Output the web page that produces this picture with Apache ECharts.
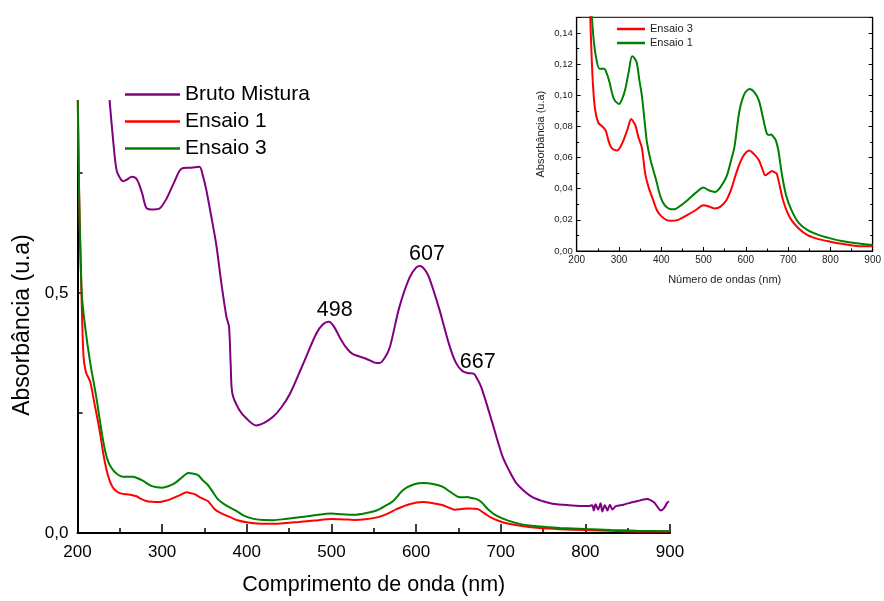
<!DOCTYPE html>
<html>
<head>
<meta charset="utf-8">
<script src="https://cdn.jsdelivr.net/npm/echarts@6/dist/echarts.min.js"></script>
<style>
html,body{margin:0;padding:0;background:#fff;}
#chart{width:884px;height:601px;}
</style>
</head>
<body>
<div id="chart"></div>
<script>
// ---- Data (wavelength nm, absorbance) ----
const xTicks = [200, 300, 400, 500, 600, 700, 800, 900];
const mainYTicks = ['0,0', '0,5'];
const insetYTicks = ['0,00', '0,02', '0,04', '0,06', '0,08', '0,10', '0,12', '0,14'];

const brutoNm = [236,238,242,246,250,254,259,264,270,276,282,290,297,305,314,323,333,344,348,352,358,364,370,376,379,381,383,391,400,411,421,431,441,451,466,482,490,497,503,510,518,525,541,551,557,563,569,580,592,600,605,610,615,627,639,647,655,662,668,672,677,688,702,710,718,728,738,750,761,780,804,808,810,812,815,818,820,823,826,829,832,836,845,855,865,873,881,885,889,893,897,899];
const brutoAbs = [0.95,0.9,0.82,0.757,0.74,0.733,0.737,0.742,0.737,0.71,0.676,0.674,0.676,0.696,0.73,0.759,0.761,0.763,0.745,0.716,0.66,0.6,0.52,0.45,0.43,0.35,0.29,0.257,0.238,0.224,0.23,0.242,0.262,0.29,0.35,0.415,0.435,0.44,0.43,0.407,0.385,0.373,0.363,0.355,0.354,0.365,0.387,0.469,0.531,0.553,0.556,0.549,0.534,0.469,0.393,0.355,0.337,0.333,0.332,0.322,0.304,0.242,0.16,0.13,0.105,0.087,0.074,0.066,0.061,0.058,0.056,0.058,0.047,0.06,0.049,0.062,0.045,0.058,0.047,0.059,0.049,0.056,0.059,0.064,0.068,0.071,0.064,0.055,0.047,0.052,0.064,0.066];

const redNm = [200,202,204,207,210,215,220,226,231,236,241,246,252,258,264,269,275,281,288,296,304,312,320,329,334,339,346,354,362,370,381,390,400,412,423,440,461,480,500,515,527,540,554,566,577,592,608,620,631,640,646,654,662,668,673,680,688,698,708,725,746,770,800,830,861,900];
const redAbs = [0.95,0.7,0.55,0.37,0.335,0.315,0.27,0.215,0.16,0.12,0.097,0.087,0.082,0.0805,0.079,0.077,0.071,0.0667,0.065,0.0645,0.067,0.072,0.078,0.0848,0.083,0.0805,0.073,0.0665,0.0497,0.041,0.0326,0.026,0.0224,0.02,0.0194,0.02,0.023,0.026,0.0294,0.0283,0.0273,0.0285,0.0326,0.04,0.0497,0.06,0.0645,0.062,0.0582,0.052,0.0486,0.05,0.0513,0.0505,0.0497,0.042,0.0326,0.025,0.0198,0.0145,0.0102,0.0078,0.006,0.0045,0.0032,0.003];

const greenNm = [200,202,205,209,215,222,230,235,240,246,254,265,271,277,288,300,308,315,323,331,336,342,348,354,360,366,375,388,398,408,420,431,445,462,480,500,512,527,540,554,565,573,585,597,609,620,631,641,650,656,660,666,671,677,685,695,708,725,746,770,800,830,861,900];
const greenAbs = [0.95,0.7,0.5,0.43,0.355,0.285,0.195,0.155,0.136,0.124,0.117,0.117,0.114,0.109,0.0976,0.0944,0.098,0.104,0.115,0.125,0.124,0.121,0.11,0.1,0.085,0.07,0.058,0.0454,0.035,0.0294,0.027,0.0268,0.029,0.0326,0.037,0.0407,0.039,0.0379,0.041,0.0475,0.058,0.0667,0.09,0.101,0.104,0.102,0.0965,0.085,0.0752,0.0745,0.0748,0.073,0.071,0.0645,0.0497,0.036,0.0262,0.018,0.0134,0.0105,0.0081,0.0062,0.0049,0.0038];

const peakLabels = [[498, 0.44], [607, 0.556], [667, 0.332]];

const zip = (a, b) => a.map((v, i) => [v, b[i]]);
const FONT = '"Liberation Sans", Arial, sans-serif';
const PURPLE = '#800080', RED = '#ff0000', GREEN = '#008000';

const chart = echarts.init(document.getElementById('chart'), null, {renderer: 'canvas'});

const lineSeries = (name, data, color, xi, yi, extra) => Object.assign({
  type: 'line', name: name, data: data, xAxisIndex: xi, yAxisIndex: yi,
  symbol: 'none', smooth: 0.3, clip: true, animation: false,
  lineStyle: {color: color, width: 2}, itemStyle: {color: color}
}, extra || {});

const option = {
  animation: false,
  textStyle: {fontFamily: FONT},
  grid: [
    {left: 77.5, top: 101, width: 592.5, height: 436.7, containLabel: false},
    {left: 576.7, top: 17.3, width: 303.3, height: 233.7, show: true, borderColor: '#000', borderWidth: 1, backgroundColor: 'transparent'}
  ],
  xAxis: [
    {
      gridIndex: 0, type: 'value', min: 200, max: 900, interval: 100,
      name: 'Comprimento de onda (nm)', nameLocation: 'middle', nameGap: 41,
      nameTextStyle: {fontSize: 21.5, color: '#000', fontFamily: FONT},
      axisLine: {show: true, onZero: false, lineStyle: {color: '#000', width: 2}},
      axisTick: {show: true, inside: true, length: 9, lineStyle: {color: '#000', width: 1.5}},
      minorTick: {show: true, splitNumber: 2, length: 5, lineStyle: {color: '#000', width: 1.5}},
      axisLabel: {fontSize: 17, color: '#000', margin: 11, fontFamily: FONT},
      splitLine: {show: false}
    },
    {
      gridIndex: 1, type: 'value', min: 200, max: 900, interval: 100,
      name: 'Número de ondas (nm)', nameLocation: 'middle', nameGap: 23,
      nameTextStyle: {fontSize: 11, color: '#222', fontFamily: FONT},
      axisLine: {show: true, onZero: false, lineStyle: {color: '#000', width: 1.2}},
      axisTick: {show: true, inside: true, length: 4, lineStyle: {color: '#000'}},
      minorTick: {show: true, splitNumber: 2, length: 2.5, lineStyle: {color: '#000'}},
      axisLabel: {fontSize: 10, color: '#222', margin: 4, fontFamily: FONT},
      splitLine: {show: false}
    }
  ],
  yAxis: [
    {
      gridIndex: 0, type: 'value', min: 0, max: 0.9, interval: 0.5,
      axisLine: {show: true, onZero: false, lineStyle: {color: '#000', width: 2}},
      axisTick: {show: true, inside: true, length: 5, customValues: [0, 0.25, 0.5, 0.75], lineStyle: {color: '#000', width: 1.5}},
      axisLabel: {fontSize: 17, color: '#000', margin: 9, fontFamily: FONT,
        formatter: v => (Math.abs(v / 0.5 - Math.round(v / 0.5)) < 1e-6 ? (mainYTicks[Math.round(v / 0.5)] || '') : '')},
      splitLine: {show: false}
    },
    {
      gridIndex: 1, type: 'value', min: 0, max: 0.15, interval: 0.02,
      name: 'Absorbância (u.a)', nameLocation: 'middle', nameGap: 30,
      nameTextStyle: {fontSize: 11, color: '#222', fontFamily: FONT},
      axisLine: {show: true, onZero: false, lineStyle: {color: '#000', width: 1.2}},
      axisTick: {show: true, inside: true, length: 4, lineStyle: {color: '#000'}},
      minorTick: {show: true, splitNumber: 2, length: 2.5, lineStyle: {color: '#000'}},
      axisLabel: {fontSize: 9.5, color: '#222', margin: 4, fontFamily: FONT,
        formatter: v => (Math.abs(v / 0.02 - Math.round(v / 0.02)) < 1e-6 ? (insetYTicks[Math.round(v / 0.02)] || '') : '')},
      splitLine: {show: false}
    },
    {
      gridIndex: 1, type: 'value', min: 0, max: 0.15, interval: 0.02, position: 'right',
      axisLine: {show: true, onZero: false, lineStyle: {color: '#000', width: 1.2}},
      axisTick: {show: true, inside: true, length: 4, lineStyle: {color: '#000'}},
      minorTick: {show: true, splitNumber: 2, length: 2.5, lineStyle: {color: '#000'}},
      axisLabel: {show: false},
      splitLine: {show: false}
    }
  ],
  legend: [
    {
      data: ['Bruto Mistura', 'Ensaio 1', 'Ensaio 3'],
      orient: 'vertical', left: 120, top: 78.5, itemWidth: 55, itemHeight: 2.5, itemGap: 5,
      icon: 'rect', selectedMode: false,
      textStyle: {fontSize: 21, color: '#000', fontFamily: FONT, lineHeight: 22}
    },
    {
      data: ['Ensaio 3 ', 'Ensaio 1 '],
      orient: 'vertical', left: 612, top: 18, itemWidth: 28, itemHeight: 2.5, itemGap: 2,
      icon: 'rect', selectedMode: false,
      textStyle: {fontSize: 11, color: '#222', fontFamily: FONT, lineHeight: 12}
    }
  ],
  graphic: [
    {type: 'text', x: 22.5, y: 325, rotation: Math.PI / 2,
     style: {text: 'Absorbância (u.a)', fontSize: 23, fill: '#000', fontFamily: FONT, align: 'center', verticalAlign: 'middle'}}
  ],
  series: [
    lineSeries('Ensaio 1', zip(redNm, redAbs), RED, 0, 0, {z: 2}),
    lineSeries('Ensaio 3', zip(greenNm, greenAbs), GREEN, 0, 0, {z: 3}),
    lineSeries('Bruto Mistura', zip(brutoNm, brutoAbs), PURPLE, 0, 0, {
      z: 4,
      markPoint: {
        symbol: 'circle', symbolSize: 0.1, animation: false,
        itemStyle: {color: 'transparent'},
        label: {show: true, position: 'top', distance: 1, offset: [5, 0], color: '#000', fontSize: 21.5, fontFamily: FONT,
          formatter: p => String(p.data.coord[0])},
        data: peakLabels.map(p => ({coord: p}))
      }
    }),
    lineSeries('Ensaio 3 ', zip(redNm, redAbs), RED, 1, 1, {z: 2}),
    lineSeries('Ensaio 1 ', zip(greenNm, greenAbs), GREEN, 1, 1, {z: 3})
  ]
};
chart.setOption(option);
</script>
</body>
</html>
